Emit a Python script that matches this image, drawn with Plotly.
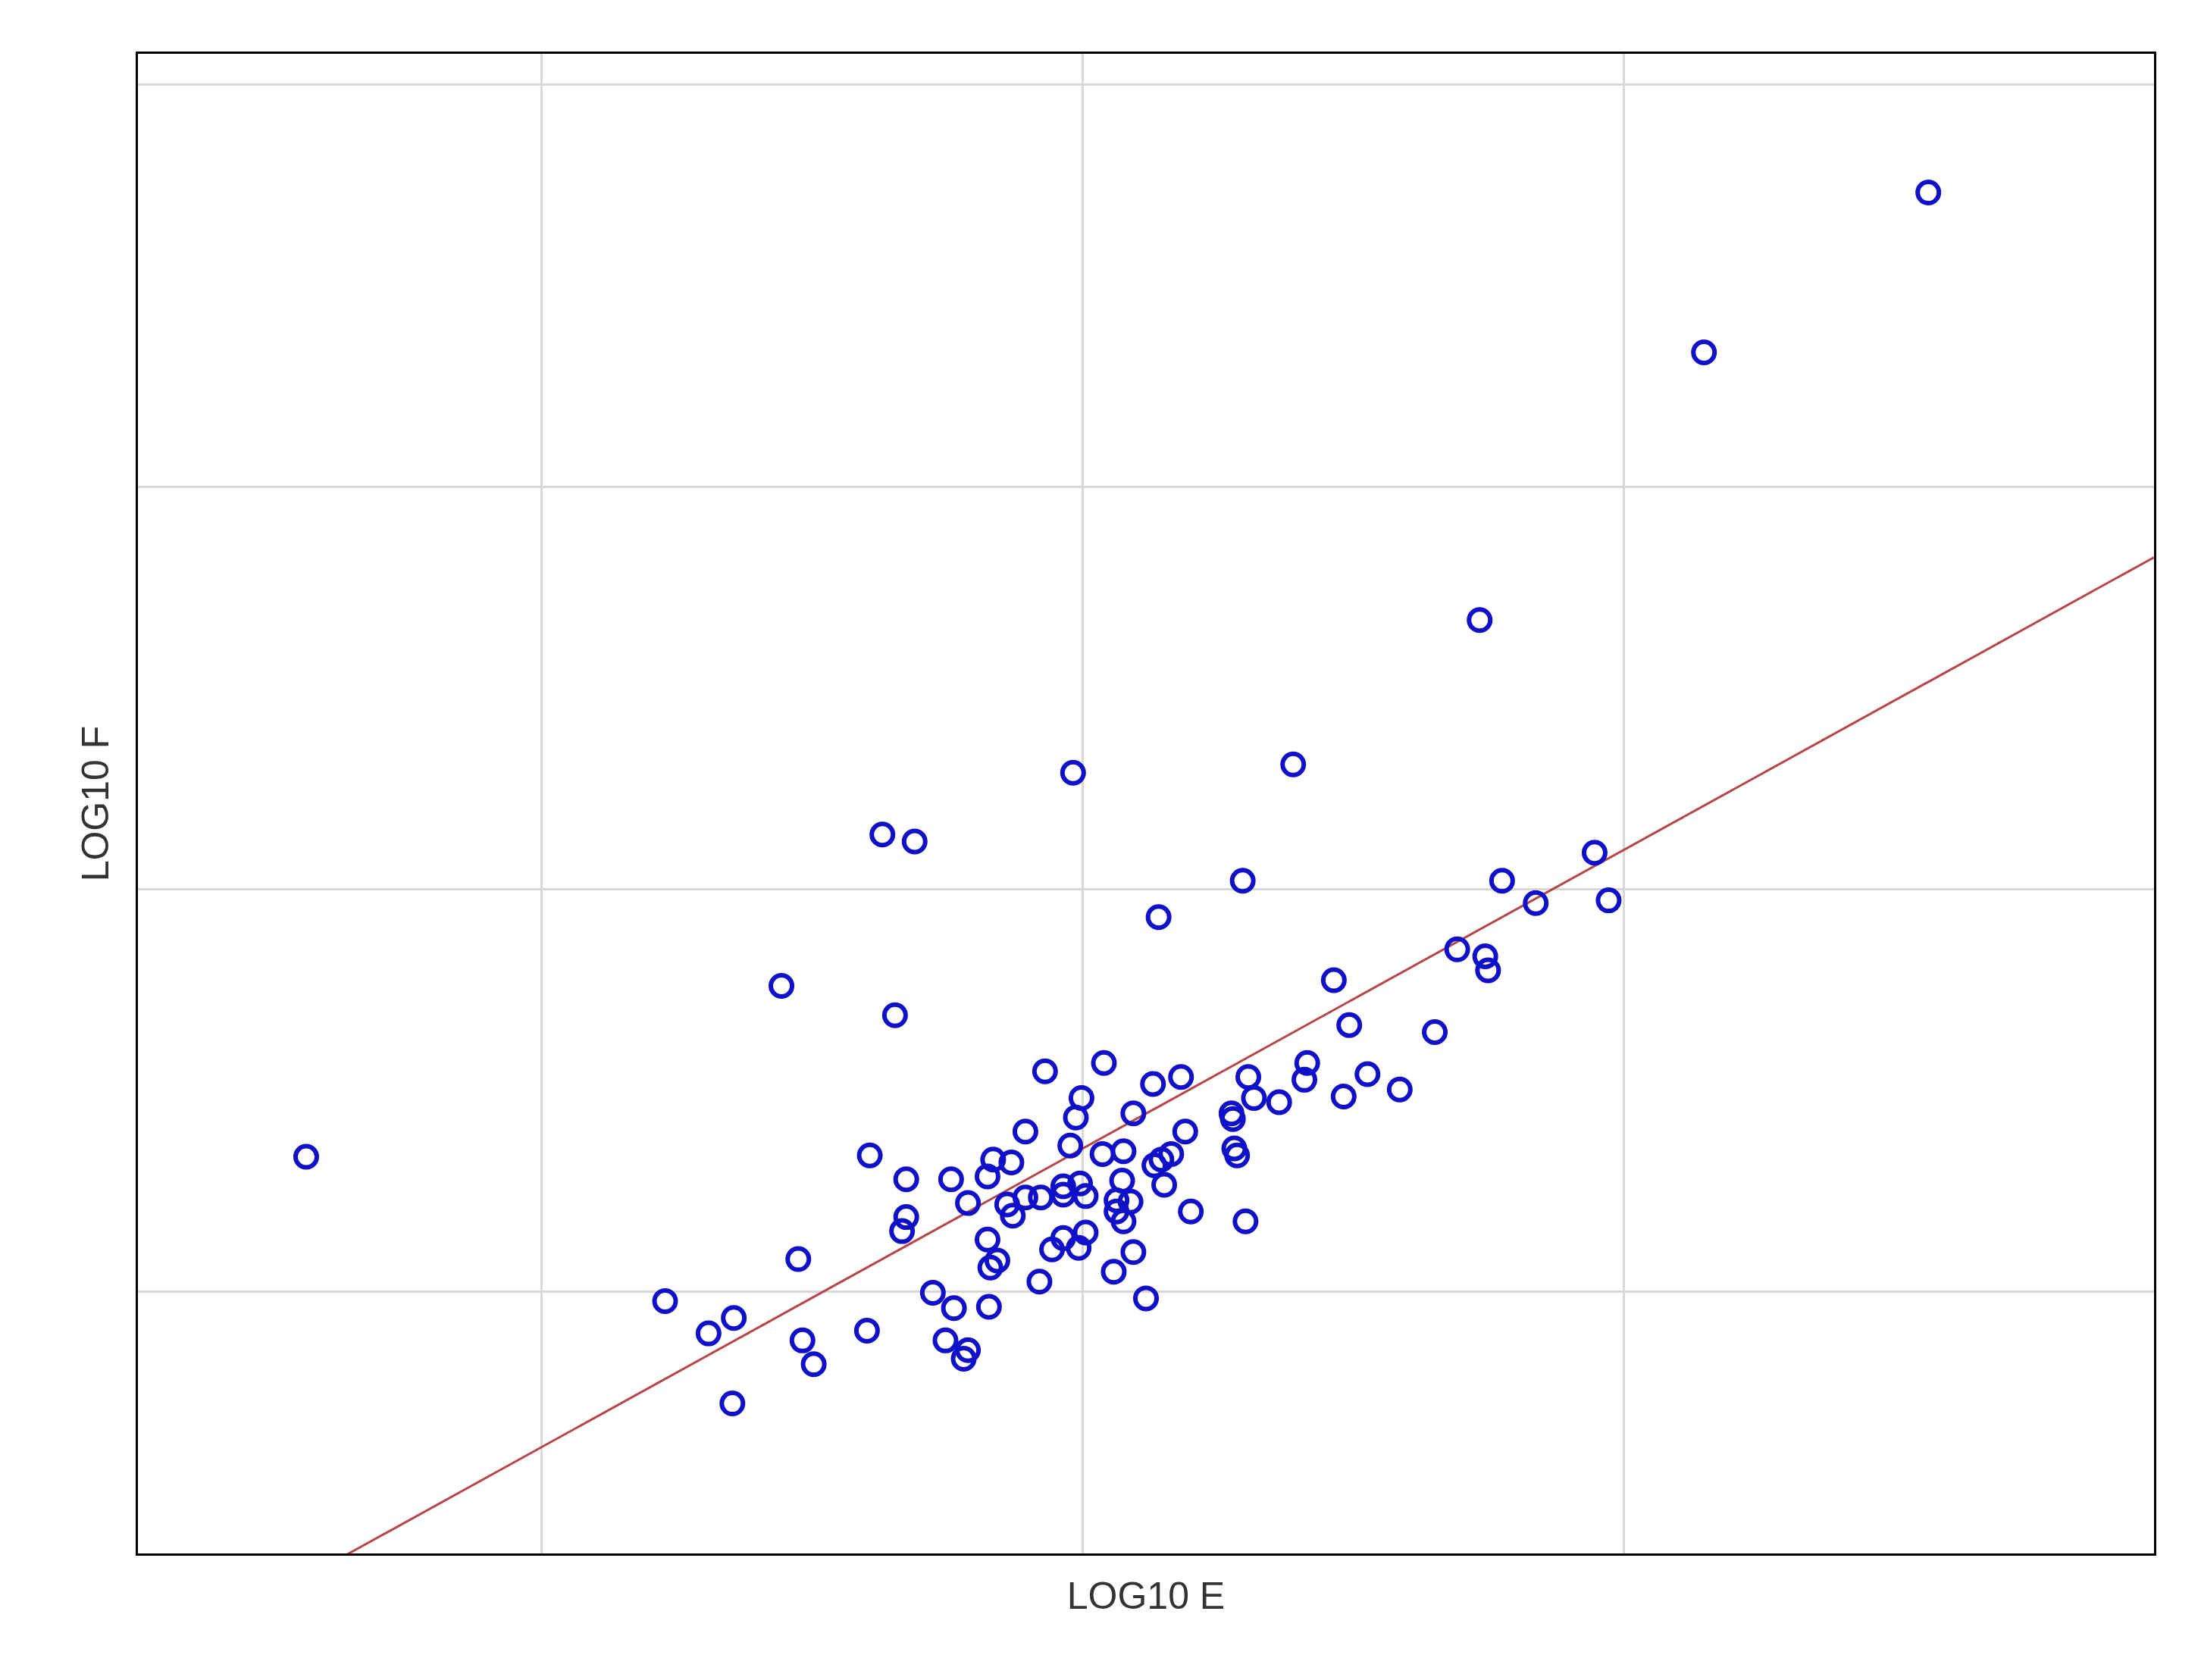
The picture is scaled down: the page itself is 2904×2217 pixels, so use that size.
import plotly.graph_objects as go

# values in arbitrary log units (no tick labels shown in the original)
log_e = [-554, 603, 443, 283, -7, 150, -143, -120, 114, 54,
         365, 299, 323, 375, -215, -134, 179, 267, 287, 289,
         190, 251, -27, 15, -1, 50, 70, 118, 160, 158,
         203, 226, 186, 140, 122, 106, 107, 36, -5, -41,
         73, -9, -152, 108, 110, -64, -51, 14, 29, 63,
         56, 51, -126, -94, -68, -14, -2, 28, 58, -30,
         -14, 2, -41, -82, -54, 24, 34, 24, 29, 77,
         116, -126, -129, -50, -68, 2, -14, -22, -3, 36,
         -203, -61, -66, 22, -31, -107, -298, 45, -92, -67,
         -249, -267, -154, -98, -200, -82, -192, -85, -250]
log_f = [-191, 497, 383, 192, 83, 89, 39, 34, 6, -20,
         26, 6, -10, -8, -69, -90, -65, -43, -48, -58,
         -97, -102, -130, -124, -149, -139, -134, -134, -124, -136,
         -132, -143, -148, -152, -149, -160, -164, -160, -163, -173,
         -173, -183, -190, -185, -190, -193, -195, -189, -187, -189,
         -193, -197, -207, -207, -205, -212, -210, -208, -211, -220,
         -218, -219, -220, -224, -225, -222, -223, -230, -237, -230,
         -237, -234, -244, -233, -250, -245, -249, -257, -256, -259,
         -264, -265, -270, -273, -280, -288, -294, -292, -299, -298,
         -306, -317, -315, -322, -322, -329, -339, -335, -367]

fit_slope = 0.552
fit_intercept = -185
x_range = [-674, 764]
y_range = [-474, 596]

fit_x = x_range
fit_y = [fit_slope * v + fit_intercept for v in fit_x]

fig = go.Figure()
fig.add_trace(go.Scatter(x=fit_x, y=fit_y, mode="lines",
                         line=dict(color="#b5474a", width=3), showlegend=False))
fig.add_trace(go.Scatter(x=log_e, y=log_f, mode="markers",
                         marker=dict(symbol="circle-open", size=28, color="#1010c8",
                                     line=dict(width=6, color="#1010c8")),
                         showlegend=False))

fig.update_xaxes(range=x_range, tick0=0, dtick=386, showticklabels=False,
                 showgrid=True, gridcolor="#d8d8d8", gridwidth=3, zeroline=False,
                 showline=True, linecolor="black", linewidth=3, mirror=True, ticks="",
                 title=dict(text="LOG10 E", font=dict(size=50, color="#333"), standoff=36))
fig.update_yaxes(range=y_range, tick0=0, dtick=287, showticklabels=False,
                 showgrid=True, gridcolor="#d8d8d8", gridwidth=3, zeroline=False,
                 showline=True, linecolor="black", linewidth=3, mirror=True, ticks="",
                 title=dict(text="LOG10 F", font=dict(size=50, color="#333"), standoff=20))

fig.update_layout(width=2904, height=2217, plot_bgcolor="white", paper_bgcolor="white",
                  font=dict(family="Liberation Sans, Arial"),
                  margin=dict(l=174, r=70, t=63, b=175))
fig.write_html("out.html")
